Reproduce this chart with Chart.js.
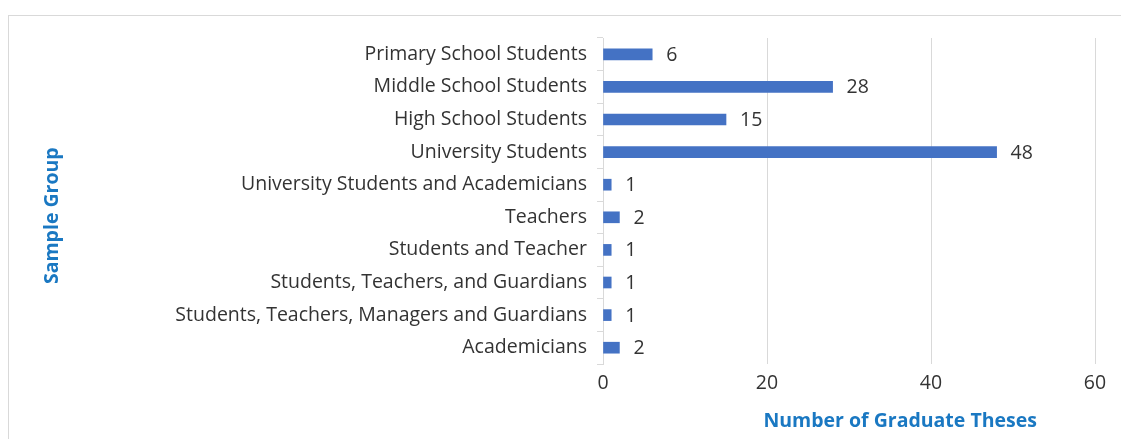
<!DOCTYPE html>
<html>
<head>
<meta charset="utf-8">
<script src="https://cdn.jsdelivr.net/npm/chart.js@4"></script>
<style>
  body { margin: 0; background: #fff; overflow: hidden; }
  #frame {
      position: absolute; left: 8px; top: 15px;
      width: 1200px; height: 500px;
      border: 1px solid #d9d9d9;
  }
  #holder { position: absolute; left: 0; top: 0; width: 1121px; height: 439px; }
</style>
</head>
<body>
<div id="frame"></div>
<div id="holder"><canvas id="chart-area-1"></canvas></div>
<script>
// Categories (top to bottom) and the number of theses for each
var groups = [
    "Primary School Students",
    "Middle School Students",
    "High School Students",
    "University Students",
    "University Students and Academicians",
    "Teachers",
    "Students and Teacher",
    "Students, Teachers, and Guardians",
    "Students, Teachers, Managers and Guardians",
    "Academicians"
];
var theses = [6, 28, 15, 48, 1, 2, 1, 1, 1, 2];
var x_ticks = [0, 20, 40, 60];

var x_title = "Number of Graduate Theses";
var y_title = "Sample Group";

var FONT = "'Open Sans', sans-serif";
var FONT_SIZE = 19.5;
var BLUE_TITLE = '#1a78c2';

/******************************************************************************
* Writes the value just to the right of each bar.
******************************************************************************/
var valueLabels = {
    id: 'valueLabels',
    afterDatasetsDraw: function(chart) {
        var ctx  = chart.ctx;
        var meta = chart.getDatasetMeta(0);
        ctx.save();
        ctx.font = FONT_SIZE + 'px ' + FONT;
        ctx.fillStyle = '#333';
        ctx.textAlign = 'left';
        ctx.textBaseline = 'middle';
        meta.data.forEach(function(bar, i) {
            ctx.fillText(theses[i], bar.x + 14, bar.y + 1);
        });
        ctx.restore();
    }
};

/******************************************************************************
* Both axis titles sit off-centre in the original, so they are drawn here.
******************************************************************************/
var axisTitles = {
    id: 'axisTitles',
    afterDraw: function(chart) {
        var ctx  = chart.ctx;
        var area = chart.chartArea;
        ctx.save();
        ctx.font = 'bold ' + FONT_SIZE + 'px ' + FONT;
        ctx.fillStyle = BLUE_TITLE;
        ctx.textAlign = 'center';
        ctx.textBaseline = 'middle';
        ctx.fillText(x_title, area.left + (area.right - area.left) * 0.604, 421);

        ctx.translate(52, area.top + (area.bottom - area.top) * 0.545);
        ctx.rotate(-Math.PI / 2);
        ctx.fillText(y_title, 0, 0);
        ctx.restore();
    }
};

var ctx = document.getElementById("chart-area-1").getContext("2d");
var myBar = new Chart(ctx, {
    type: 'bar',
    data: {
        labels: groups,
        datasets: [{
            data: theses,
            backgroundColor: '#4472c4',
            barThickness: 11
        }]
    },
    options: {
        indexAxis: 'y',
        responsive: true,
        maintainAspectRatio: false,
        animation: false,
        layout: { padding: { left: 0, right: 26, top: 38, bottom: 0 } },
        plugins: {
            legend: { display: false },
            tooltip: { enabled: false }
        },
        scales: {
            x: {
                min: 0,
                max: 60,
                afterBuildTicks: function(scale) {
                    scale.ticks = x_ticks.map(function(v) { return { value: v }; });
                },
                afterFit: function(scale) { scale.height = 75; },
                grid: { color: '#d9d9d9', drawTicks: false },
                border: { display: false },
                ticks: {
                    color: '#333',
                    padding: 8,
                    font: { family: FONT, size: FONT_SIZE }
                }
            },
            y: {
                afterFit: function(scale) { scale.width = 603; },
                grid: { drawOnChartArea: false, tickLength: 6, color: '#d9d9d9' },
                border: { color: '#d9d9d9' },
                ticks: {
                    color: '#333',
                    padding: 10,
                    font: { family: FONT, size: FONT_SIZE }
                }
            }
        }
    },
    plugins: [valueLabels, axisTitles]
});
</script>
</body>
</html>
